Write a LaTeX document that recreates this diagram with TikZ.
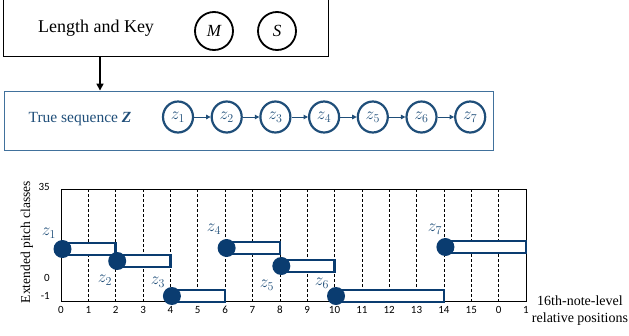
\documentclass[tikz,border=0pt]{standalone}
\usepackage{fontspec}
\setmainfont{Liberation Serif}
\newfontfamily\calib{Carlito}
\usetikzlibrary{arrows.meta,shapes.geometric}
\definecolor{navy}{RGB}{31,78,121}
\definecolor{dotblue}{RGB}{10,60,112}
\definecolor{boxblue}{RGB}{65,113,156}
\tikzset{
  varcirc/.style={circle, draw=black, line width=1.8pt, minimum size=38pt, inner sep=0pt, font=\fontsize{17}{19}\selectfont\itshape},
  seqcirc/.style={ellipse, draw=navy, line width=2.2pt, minimum width=30pt, minimum height=31pt, inner sep=0pt, text=navy, font=\fontsize{17}{19}\selectfont},
  seqarrow/.style={-{Triangle[length=4.5pt,width=4.5pt]}, draw=navy, line width=1pt},
  bar/.style={draw=dotblue, line width=2.5pt, fill=white},
  notedot/.style={fill=dotblue},
  grid/.style={densely dashed, line width=0.6pt, black},
  tick/.style={font=\calib\fontsize{11}{12}\selectfont, inner sep=0pt},
  zlab/.style={text=navy, font=\fontsize{16.5}{18}\selectfont, inner sep=0pt}
}
\begin{document}
\begin{tikzpicture}[x=1pt,y=-1pt]
\useasboundingbox (0,0) rectangle (629,335);
% top box
\node[draw=black, line width=0.9pt, minimum width=325pt, minimum height=76pt, inner sep=0pt] (top) at (165.5,18) {};
\node[font=\fontsize{18}{20}\selectfont, inner sep=0pt] (lk) at (96,28) {Length and Key};
\node[varcirc] (M) at (214,31) {M};
\node[varcirc] (S) at (277,31) {S};
% sequence box
\node[draw=boxblue, line width=0.9pt, minimum width=489pt, minimum height=59pt, inner sep=0pt] (seq) at (248.5,120.5) {};
\draw[-{Triangle[length=7pt,width=7pt]}, line width=1.6pt] (top.south -| 100,0) -- (seq.north -| 100,0);
\node[text=navy, font=\fontsize{15.5}{17}\selectfont, inner sep=0pt] (tsz) at (80,119) {True sequence \textbf{\textit{Z}}};
\foreach \i in {1,...,7}{
  \node[seqcirc] (s\i) at ({178+48.7*(\i-1)},117) {$z_{\i}$};
}
\foreach \i [evaluate=\i as \j using int(\i+1)] in {1,...,6}{
  \draw[seqarrow] (s\i) -- (s\j);
}
% chart
\foreach \u in {1,...,16}{
  \draw[grid] ({61+27.35*\u},189) -- ({61+27.35*\u},301);
}
\draw[line width=0.8pt] (61,189) rectangle (526,301);
\foreach \u/\t in {0/0,1/1,2/2,3/3,4/4,5/5,6/6,7/7,8/8,9/9,10/10,11/11,12/12,13/13,14/14,15/15,16/0,17/1}{
  \node[tick] (tx\u) at ({61+27.35*\u},310) {\t};
}
\node[tick, anchor=east] (y35) at (50,187) {35};
\node[tick, anchor=east] (y0) at (50,278) {0};
\node[tick, anchor=east] (ym1) at (50,296) {-1};
\node[rotate=90, font=\fontsize{13.5}{15}\selectfont, inner sep=0pt] (ylab) at (27,242) {Extended pitch classes};
\node[align=center, font=\fontsize{14}{17}\selectfont, inner sep=0pt] (xlab) at (580,310.5) {16th-note-level\\relative positions};
% notes
\foreach \s/\e/\y/\lx/\ly/\n in {0/2/249/49/233/1, 2/4/261/105/280/2, 4/6/296/158/282/3, 6/8/248/214/229/4, 8/10/266/267/285/5, 10/14/296/322/283/6, 14/17/247/435/229/7}{
  \draw[bar] ({61+27.35*\s},\y-6) rectangle ({61+27.35*\e},\y+6);
  \fill[notedot] ({61+27.35*\s+1.5},\y) circle (9pt);
  \node[zlab] (nl\n) at (\lx,\ly) {$z_{\n}$};
}
\end{tikzpicture}
\end{document}
